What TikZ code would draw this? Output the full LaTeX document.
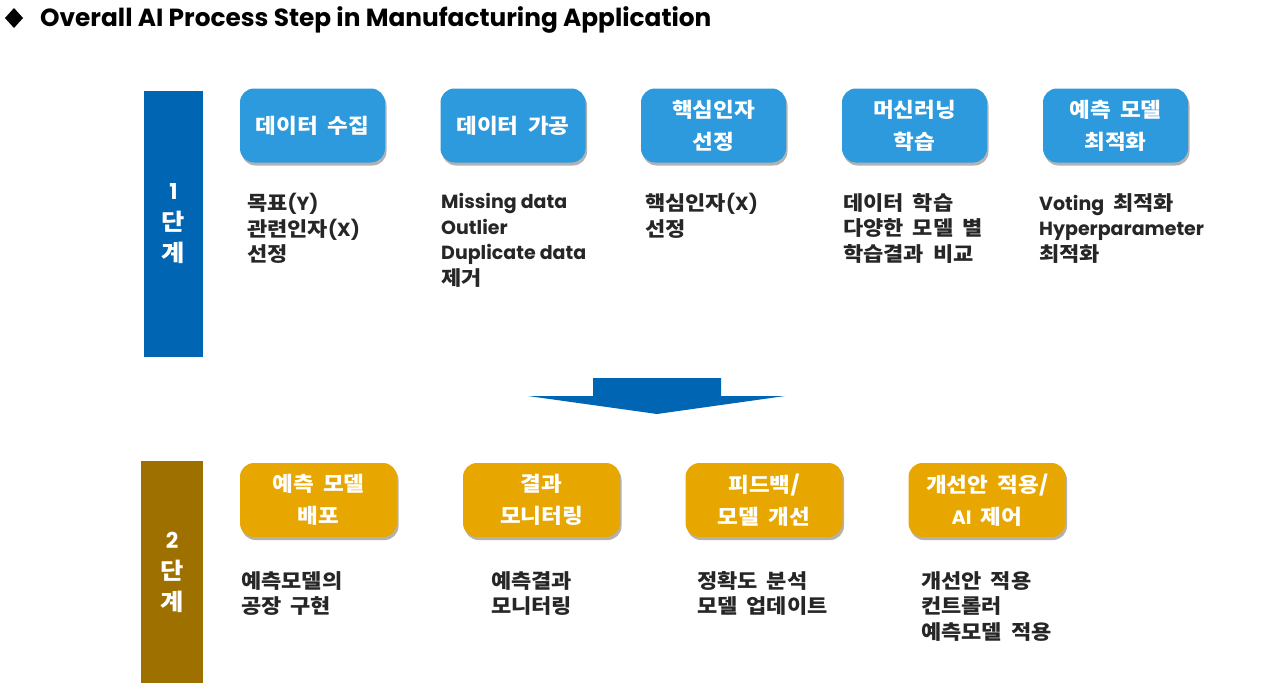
\documentclass[tikz,border=0pt]{standalone}
\usepackage{fontspec}
\setmainfont{Noto Sans CJK KR}[FakeStretch=1.1, WordSpace=1.8]
\newfontfamily\la{Poppins}[Scale=0.95]
\newfontfamily\titlefont{Poppins}
\usetikzlibrary{shadows}
\definecolor{barblue}{HTML}{0066B3}
\definecolor{barbrown}{HTML}{9E7000}
\definecolor{boxblue}{HTML}{2C9ADC}
\definecolor{boxorange}{HTML}{E8A700}
\definecolor{textdark}{HTML}{262626}
\newcommand\lt[1]{{\la #1}}
\tikzset{
  bar/.style={fill=#1, draw=none, text=white, align=center, inner sep=0pt,
    font=\bfseries\fontsize{23}{31}\selectfont},
  stepbox/.style={fill=#1, draw=none, rounded corners=14pt, text=white,
    align=center, inner sep=0pt, minimum height=74pt,
    font=\bfseries\fontsize{20.5}{32}\selectfont,
    drop shadow={shadow xshift=1.5pt, shadow yshift=-3pt, opacity=0.3, fill=black}},
  desc/.style={anchor=north west, align=left, inner sep=0pt, text=textdark,
    font=\bfseries\fontsize{20}{25.7}\selectfont},
}
\begin{document}
\begin{tikzpicture}[x=1pt, y=-1pt]
\useasboundingbox (0,0) rectangle (1278,696);
% title
\fill[black] (14,8) -- (23,18) -- (14,28) -- (5,18) -- cycle;
\node[anchor=base west, inner sep=0pt, font=\titlefont\bfseries\fontsize{24.8}{28}\selectfont] (title) at (40,27)
  {Overall AI Process Step in Manufacturing Application};

% stage bars
\node[bar=barblue, minimum width=59pt, minimum height=266pt] (bar1) at (173.5,224) {\lt{1}\\단\\계};
\node[bar=barbrown, minimum width=62pt, minimum height=222pt] (bar2) at (172,572) {\lt{2}\\단\\계};

% stage 1 boxes
\node[stepbox=boxblue, minimum width=145pt] (s1a) at (312.5,125.5) {데이터 수집};
\node[stepbox=boxblue, minimum width=145pt] (s1b) at (513,125.5) {데이터 가공};
\node[stepbox=boxblue, minimum width=145pt] (s1c) at (713.5,125.5) {핵심인자\\선정};
\node[stepbox=boxblue, minimum width=145pt] (s1d) at (914.5,125.5) {머신러닝\\학습};
\node[stepbox=boxblue, minimum width=145pt] (s1e) at (1115.5,125.5) {예측 모델\\최적화};

% stage 1 descriptions
\node[desc] (d1a) at (247,193) {목표\lt{(Y)}\\관련인자\lt{(X)}\\선정};
\node[desc] (d1b) at (441,193) {\lt{Missing data}\\\lt{Outlier}\\\lt{Duplicate data}\\제거};
\node[desc] (d1c) at (645,193) {핵심인자\lt{(X)}\\선정};
\node[desc] (d1d) at (843,193) {데이터 학습\\다양한 모델 별\\학습결과 비교};
\node[desc] (d1e) at (1039,193) {\lt{Voting} 최적화\\\lt{Hyperparameter}\\최적화};

% transition arrow
\fill[barblue] (593,378) -- (721,378) -- (721,396) -- (785,396) -- (657,414)
  -- (528,396) -- (593,396) -- cycle;

% stage 2 boxes
\node[stepbox=boxorange, minimum width=157pt] (s2a) at (318.5,500) {예측 모델\\배포};
\node[stepbox=boxorange, minimum width=157pt] (s2b) at (541.5,500) {결과\\모니터링};
\node[stepbox=boxorange, minimum width=157pt] (s2c) at (764,500) {피드백\lt{/}\\모델 개선};
\node[stepbox=boxorange, minimum width=157pt] (s2d) at (987,500) {개선안 적용\lt{/}\\\lt{AI} 제어};

% stage 2 descriptions
\node[desc] (d2a) at (241,571) {예측모델의\\공장 구현};
\node[desc] (d2b) at (491,571) {예측결과\\모니터링};
\node[desc] (d2c) at (697,571) {정확도 분석\\모델 업데이트};
\node[desc] (d2d) at (921,571) {개선안 적용\\컨트롤러\\예측모델 적용};
\end{tikzpicture}
\end{document}
